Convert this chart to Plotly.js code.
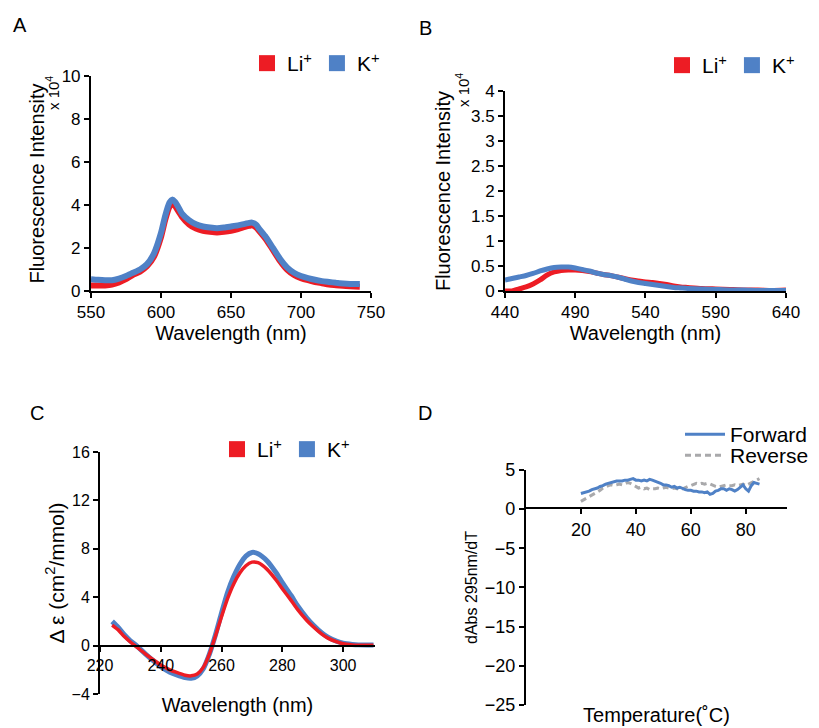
<!DOCTYPE html>
<html>
<head>
<meta charset="utf-8">
<script src="https://cdn.plot.ly/plotly-3.0.1.min.js"></script>
<style>html,body{margin:0;padding:0;background:#fff;}#chart{width:819px;height:728px;}</style>
</head>
<body>
<div id="chart"></div>
<script>
// Panel A: fluorescence emission (x 10^4)
const aWave = [550,555,560,565,570,575,580,585,590,595,600,603,606,608,610,612,615,620,625,630,635,640,645,650,655,660,663,665,668,670,675,680,685,690,695,700,705,710,715,720,725,730,735,742];
const aLi   = [0.25,0.25,0.26,0.3,0.4,0.55,0.75,0.9,1.15,1.6,2.5,3.3,3.9,4.05,3.95,3.75,3.45,3.1,2.9,2.8,2.75,2.72,2.75,2.8,2.88,2.98,3.03,3.05,2.95,2.8,2.4,1.9,1.4,1.0,0.75,0.6,0.5,0.42,0.36,0.3,0.27,0.24,0.22,0.2];
const aK    = [0.55,0.52,0.5,0.5,0.58,0.7,0.85,1.0,1.25,1.75,2.7,3.5,4.1,4.25,4.15,3.95,3.6,3.3,3.1,3.0,2.95,2.92,2.95,3.0,3.05,3.12,3.17,3.18,3.08,2.9,2.5,2.0,1.5,1.1,0.85,0.7,0.6,0.52,0.46,0.42,0.38,0.35,0.33,0.32];

// Panel B: fluorescence emission (x 10^4)
const bWave = [440,445,450,455,460,465,470,475,480,485,490,495,500,505,510,515,520,525,530,535,540,545,550,555,560,565,570,580,590,600,610,620,630,640];
const bLi   = [0.0,0.0,0.04,0.08,0.14,0.22,0.32,0.38,0.41,0.42,0.42,0.41,0.39,0.36,0.33,0.31,0.28,0.25,0.22,0.2,0.18,0.17,0.15,0.13,0.1,0.08,0.07,0.05,0.04,0.03,0.02,0.02,0.01,0.02];
const bK    = [0.22,0.25,0.28,0.31,0.35,0.4,0.44,0.47,0.48,0.48,0.46,0.43,0.4,0.36,0.33,0.31,0.28,0.24,0.2,0.17,0.15,0.13,0.11,0.09,0.07,0.06,0.05,0.04,0.03,0.02,0.02,0.01,0.01,0.01];

// Panel C: CD spectra
const cWave = [224,226,228,230,232,235,238,240,243,245,248,250,252,254,256,258,260,262,264,266,268,270,272,275,278,280,283,285,288,290,293,295,298,300,303,305,308,310];
const cLi   = [1.7,1.3,0.75,0.3,-0.1,-0.7,-1.25,-1.6,-2.0,-2.2,-2.45,-2.5,-2.35,-1.8,-0.7,0.8,2.4,3.9,5.1,6.0,6.6,6.9,6.85,6.3,5.4,4.7,3.7,3.0,2.1,1.6,0.95,0.62,0.3,0.15,0.06,0.03,0.02,0.02];
const cK    = [2.0,1.5,0.9,0.4,0.0,-0.7,-1.35,-1.75,-2.2,-2.4,-2.65,-2.7,-2.5,-1.9,-0.7,0.9,2.7,4.4,5.7,6.7,7.4,7.7,7.6,7.0,6.0,5.2,4.1,3.3,2.3,1.75,1.05,0.7,0.35,0.2,0.1,0.06,0.05,0.05];

// Panel D: thermal derivative (dAbs 295 nm / dT)
const dTemp    = [20,21,22,23,24,25,26,27,28,29,30,31,32,33,34,35,36,37,38,39,40,41,42,43,44,45,46,47,48,49,50,51,52,53,54,55,56,57,58,59,60,61,62,63,64,65,66,67,68,69,70,71,72,73,74,75,76,77,78,79,80,81,82,83,84,85];
const dForward = [2.0,2.1,2.2,2.3,2.5,2.6,2.7,2.9,3.0,3.2,3.3,3.4,3.5,3.6,3.6,3.6,3.7,3.7,3.8,3.9,3.7,3.7,3.6,3.7,3.6,3.8,3.7,3.6,3.4,3.3,3.1,3.1,3.0,2.8,2.9,2.7,2.8,2.6,2.5,2.4,2.4,2.3,2.3,2.2,2.2,2.1,2.2,1.9,2.0,2.3,2.4,2.6,2.6,2.4,2.6,2.5,2.3,2.5,2.8,3.1,2.6,2.3,3.0,3.4,3.3,3.2];
const dReverse = [1.0,1.2,1.3,1.5,1.7,1.9,2.1,2.4,2.7,2.9,3.0,3.1,3.0,3.1,3.2,3.1,3.3,3.4,3.3,3.1,2.9,2.7,2.8,2.6,2.7,2.5,2.6,2.6,2.7,2.6,2.7,2.8,2.7,2.6,2.7,2.6,2.5,2.6,2.8,2.9,3.0,3.2,3.3,3.2,3.3,3.2,3.3,3.2,3.0,2.9,2.8,2.9,3.0,3.1,3.0,3.0,3.1,3.0,3.1,3.2,3.0,3.2,3.4,3.6,3.8,3.9];

const RED = '#ED1C24', BLUE = '#4F81C6', GRAY = '#A9A9AB';
const FONT = 'Liberation Sans, Arial, sans-serif';

function line(x, y, xa, ya, color, width, dash) {
  return {type:'scatter', mode:'lines', x:x, y:y, xaxis:xa, yaxis:ya,
    line:{color:color, width:width, dash:dash||'solid', shape:'spline', smoothing:0.6},
    showlegend:false, hoverinfo:'skip'};
}
function key(name, color, legend) {
  return {type:'scatter', mode:'markers', x:[null], y:[null], name:name, legend:legend,
    marker:{symbol:'square', size:17, color:color}, hoverinfo:'skip'};
}

const traces = [
  line(aWave, aLi, 'x', 'y', RED, 6),
  line(aWave, aK, 'x', 'y', BLUE, 6),
  line(bWave, bLi, 'x2', 'y2', RED, 5),
  line(bWave, bK, 'x2', 'y2', BLUE, 5),
  line(cWave, cK, 'x3', 'y3', BLUE, 5),
  line(cWave, cLi, 'x3', 'y3', RED, 3.5),
  key('Li<sup>+</sup>', RED, 'legend'), key('K<sup>+</sup>', BLUE, 'legend'),
  key('Li<sup>+</sup>', RED, 'legend2'), key('K<sup>+</sup>', BLUE, 'legend2'),
  key('Li<sup>+</sup>', RED, 'legend3'), key('K<sup>+</sup>', BLUE, 'legend3'),
  {type:'scatter', mode:'lines', x:dTemp, y:dReverse, xaxis:'x4', yaxis:'y4', name:'Reverse', legend:'legend5',
    line:{color:GRAY, width:3, dash:'6px,4px'}, hoverinfo:'skip'},
  {type:'scatter', mode:'lines', x:dTemp, y:dForward, xaxis:'x4', yaxis:'y4', name:'Forward', legend:'legend4',
    line:{color:BLUE, width:3}, hoverinfo:'skip'}
];

function ax(extra) {
  return Object.assign({showgrid:false, zeroline:false, showline:true, linecolor:'#000', linewidth:2,
    ticks:'outside', ticklen:5, tickwidth:2, tickcolor:'#000', tickfont:{family:FONT, size:17, color:'#000'},
    fixedrange:true}, extra);
}
const tFont = {family:FONT, size:20, color:'#000'};
function leg(x, y, size) {
  return {x:x, y:y, xanchor:'left', yanchor:'top', orientation:'h', bgcolor:'rgba(0,0,0,0)',
    font:{family:FONT, size:size, color:'#000'}, itemwidth:30, tracegroupgap:0};
}
function label(text, px, py, size, angle) {
  return {text:text, x:px/819, y:1-py/728, xref:'paper', yref:'paper', xanchor:'center', yanchor:'middle',
    showarrow:false, textangle:angle||0, font:{family:FONT, size:size, color:'#000'}};
}

const layout = {
  width:819, height:728, margin:{l:0, r:0, t:0, b:0},
  paper_bgcolor:'#fff', plot_bgcolor:'rgba(0,0,0,0)',
  font:{family:FONT, color:'#000'},
  xaxis:  ax({domain:[0.1111,0.4530], anchor:'y', range:[550,750], tick0:550, dtick:50,
    title:{text:'Wavelength (nm)', font:tFont, standoff:4}}),
  yaxis:  ax({domain:[0.6003,0.8956], anchor:'x', range:[0,10], dtick:2,
    title:{text:'Fluorescence Intensity', font:tFont, standoff:12}}),
  xaxis2: ax({domain:[0.6166,0.9597], anchor:'y2', range:[440,640], tick0:440, dtick:50,
    title:{text:'Wavelength (nm)', font:tFont, standoff:0}}),
  yaxis2: ax({domain:[0.6003,0.8750], anchor:'x2', range:[0,4], dtick:0.5,
    title:{text:'Fluorescence Intensity', font:tFont, standoff:15}}),
  xaxis3: ax({domain:[0.1221,0.4579], anchor:'free', position:0.1126, range:[220,310.5], tick0:220, dtick:20,
    tickfont:{family:FONT, size:16, color:'#000'},
    title:{text:'Wavelength (nm)', font:tFont, standoff:24}}),
  yaxis3: ax({domain:[0.0467,0.3791], anchor:'x3', range:[-4,16], dtick:4,
    tickfont:{family:FONT, size:16, color:'#000'},
    title:{text:'\u0394 \u03b5 (cm<sup>2</sup>/mmol)', font:{family:FONT, size:21, color:'#000'}, standoff:1}}),
  xaxis4: ax({domain:[0.6422,0.9609], anchor:'free', position:0.3022, range:[0,95], tickvals:[20,40,60,80],
    tickfont:{family:FONT, size:18, color:'#000'},
    title:{text:'Temperature(\u02daC)', font:tFont, standoff:168}}),
  yaxis4: ax({domain:[0.0316,0.3544], anchor:'x4', range:[-25,5], dtick:5,
    tickfont:{family:FONT, size:18, color:'#000'},
    title:{text:'dAbs 295nm/dT', font:{family:FONT, size:16, color:'#000'}, standoff:3}}),
  legend:  leg(247/819, 1-43/728, 21),
  legend2: leg(662/819, 1-45/728, 21),
  legend3: leg(217/819, 1-429/728, 21),
  legend4: Object.assign(leg(680/819, 1-414/728, 21), {itemwidth:40}),
  legend5: Object.assign(leg(680/819, 1-435/728, 21), {itemwidth:40}),
  annotations: [
    label('A', 20, 25, 20), label('B', 425, 28, 20), label('C', 37, 413, 20), label('D', 425, 413, 20),
    label('x 10<sup>4</sup>', 52, 93, 15, -90),
    label('x 10<sup>4</sup>', 462, 90, 15, -90)
  ]
};

Plotly.newPlot('chart', traces, layout, {staticPlot:true, displayModeBar:false});
</script>
</body>
</html>
